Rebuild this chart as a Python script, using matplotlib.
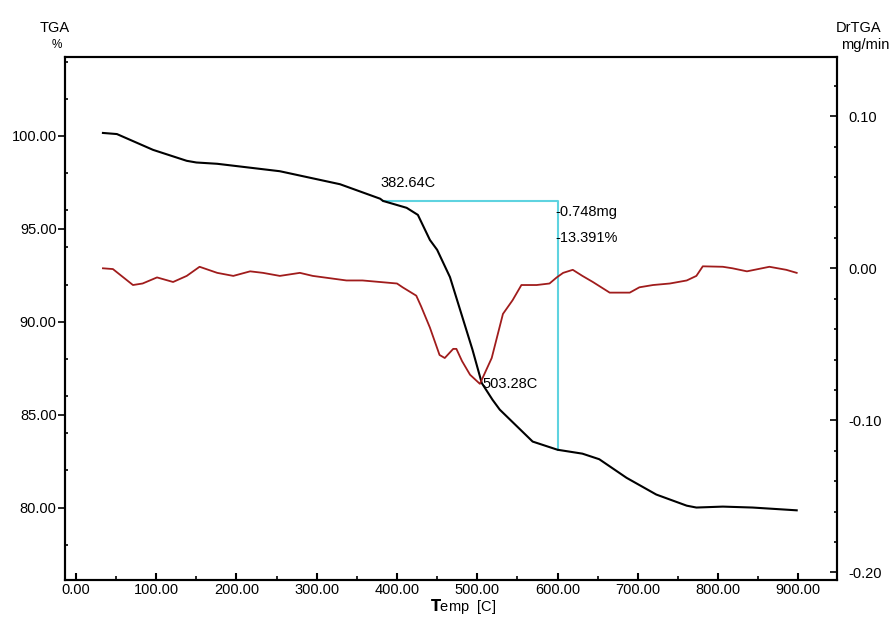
import matplotlib
matplotlib.use('Agg')
import matplotlib.pyplot as plt
from matplotlib.ticker import MultipleLocator, FormatStrFormatter

plt.rcParams['font.family'] = ['Liberation Sans', 'DejaVu Sans']

# Curva TGA (% de masa) vs temperatura
temp_tga = [33.6, 51, 96, 138, 150, 176, 254, 329, 379, 382.64, 412, 426, 441, 450,
            466, 494, 505.6, 519, 528, 569, 600, 631, 652, 686, 723, 761, 773, 806,
            843, 898]
tga = [100.16, 100.1, 99.25, 98.66, 98.57, 98.5, 98.1, 97.4, 96.62, 96.50, 96.13,
       95.75, 94.4, 93.87, 92.4, 88.5, 86.7, 85.8, 85.27, 83.55, 83.11, 82.9, 82.6,
       81.6, 80.7, 80.1, 80.0, 80.05, 80.0, 79.85]

# Curva DrTGA (mg/min)
temp_dr = [33.6, 46, 71, 83, 101, 121, 138, 154, 176, 196, 217, 233, 254, 279, 295,
           337, 357, 400, 407, 424, 430, 441, 453, 459.5, 470, 474, 481, 491, 503.28,
           518, 532, 544, 555, 574, 590, 599, 607, 619, 631, 644, 665, 690, 702, 719,
           740, 761, 773, 781, 806, 818, 836, 864, 885, 898]
drtga = [0.000, -0.0005, -0.011, -0.010, -0.006, -0.009, -0.005, 0.001, -0.003,
         -0.005, -0.002, -0.003, -0.005, -0.003, -0.005, -0.008, -0.008, -0.010,
         -0.0125, -0.018, -0.025, -0.039, -0.057, -0.059, -0.053, -0.053, -0.061,
         -0.070, -0.076, -0.059, -0.030, -0.021, -0.011, -0.011, -0.010, -0.006,
         -0.003, -0.001, -0.005, -0.009, -0.016, -0.016, -0.0125, -0.011, -0.010,
         -0.008, -0.005, 0.0013, 0.001, 0.000, -0.002, 0.001, -0.001, -0.003]

# Escalon de perdida de masa
t_inicio = 382.64
t_fin = 600.0
masa_inicio = 96.50
perdida_pct = 13.391
perdida_mg = 0.748
t_pico = 503.28
dr_pico = -0.076

fig = plt.figure(figsize=(8.95, 6.19), dpi=100)
ax = fig.add_axes([0.0726, 0.063, 0.8624, 0.845])
ax2 = ax.twinx()

ax.plot(temp_tga, tga, color='black', lw=1.5, zorder=3)
ax2.plot(temp_dr, drtga, color='#a01c1c', lw=1.3, zorder=2)

masa_fin = masa_inicio - perdida_pct
ax.plot([t_inicio, t_fin, t_fin], [masa_inicio, masa_inicio, masa_fin],
        color='#5fd3e0', lw=1.5, zorder=2)

fs = 10.5
ax.text(t_inicio - 3, masa_inicio + 0.6, f'{t_inicio:.2f}C', fontsize=fs, ha='left', va='bottom')
ax.text(t_fin - 3, masa_inicio - 0.6, f'-{perdida_mg:.3f}mg', fontsize=fs, ha='left', va='center')
ax.text(t_fin - 3, masa_inicio - 2.0, f'-{perdida_pct:.3f}%', fontsize=fs, ha='left', va='center')
ax2.text(t_pico + 3, dr_pico, f'{t_pico:.2f}C', fontsize=fs, ha='left', va='center')

ax.set_xlim(-13.7, 948)
ax.set_ylim(76.1, 104.25)
ax2.set_ylim(-0.205, 0.139)

ax.xaxis.set_major_locator(MultipleLocator(100))
ax.xaxis.set_minor_locator(MultipleLocator(50))
ax.yaxis.set_major_locator(MultipleLocator(5))
ax.yaxis.set_minor_locator(MultipleLocator(2))
ax2.yaxis.set_major_locator(MultipleLocator(0.1))
ax2.yaxis.set_minor_locator(MultipleLocator(0.02))
ax.xaxis.set_major_formatter(FormatStrFormatter('%.2f'))
ax.yaxis.set_major_formatter(FormatStrFormatter('%.2f'))
ax2.yaxis.set_major_formatter(FormatStrFormatter('%.2f'))

ax.tick_params(axis='x', which='major', direction='in', length=5, width=1.5,
               labelsize=fs, pad=2, top=False)
ax.tick_params(axis='x', which='minor', direction='in', length=3, width=1.2, top=False)
ax.tick_params(axis='y', which='major', direction='out', length=5, width=1.2,
               labelsize=fs, pad=1)
ax.tick_params(axis='y', which='minor', direction='in', length=2, width=1.2)
ax2.tick_params(axis='y', which='major', direction='in', length=5, width=1.2,
                labelsize=fs, pad=8)
ax2.tick_params(axis='y', which='minor', direction='in', length=2, width=1.2)

for a in (ax, ax2):
    for s in a.spines.values():
        s.set_linewidth(1.5)

fig.text(55 / 895, 1 - 28 / 619, 'TGA', fontsize=fs, ha='center', va='center')
fig.text(57 / 895, 1 - 45 / 619, '%', fontsize=fs - 2, ha='center', va='center')
fig.text(836 / 895, 1 - 28 / 619, 'DrTGA', fontsize=fs, ha='left', va='center')
fig.text(841 / 895, 1 - 45 / 619, 'mg/min', fontsize=fs, ha='left', va='center')
fig.text(463 / 895, 1 - 606 / 619, r'$\mathbf{T}$emp  [C]', fontsize=fs, ha='center', va='center')

fig.savefig('out.png', dpi=100, facecolor='white')
